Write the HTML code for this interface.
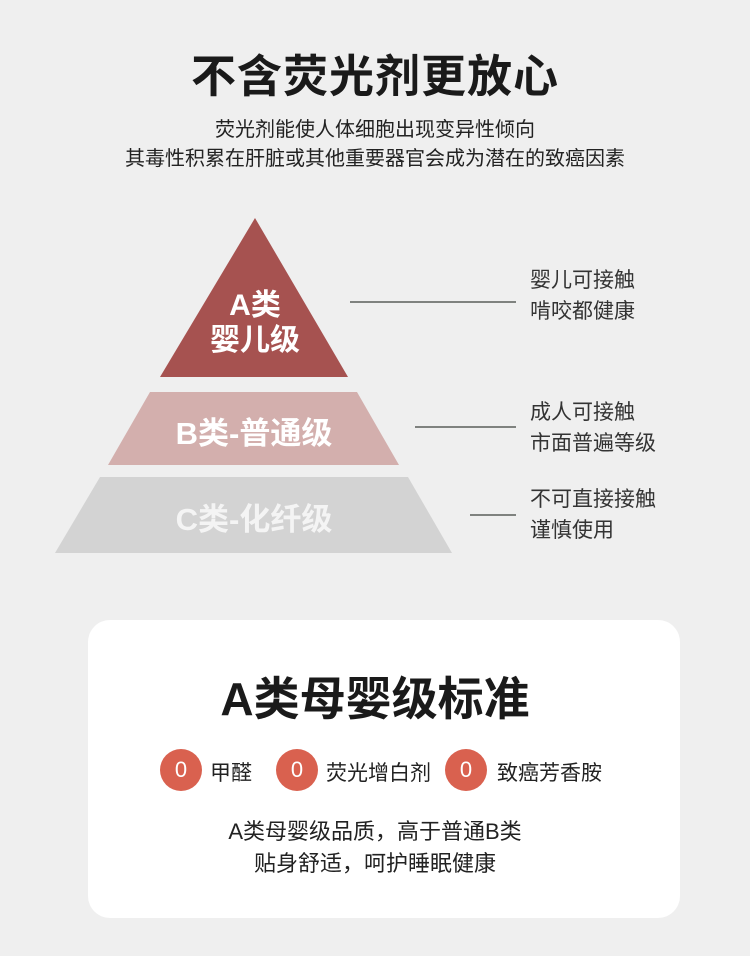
<!DOCTYPE html>
<html><head><meta charset="utf-8"><style>
body{margin:0;width:750px;height:956px;background:#efefef;position:relative;overflow:hidden;font-family:"Liberation Sans","Noto Sans CJK SC",sans-serif;color:#222}
.a{position:absolute;white-space:nowrap}
.c{text-align:center;left:0;width:750px}
.side{font-size:21px;color:#333;line-height:31px}
.circ{position:absolute;width:42px;height:42px;border-radius:50%;background:#d9614f;color:#fff;font-size:22px;text-align:center;line-height:42px}
.lab{font-size:21px;color:#222}
</style></head><body>
<div class="a c" style="top:40px;font-size:45px;font-weight:bold;color:#1a1a1a;letter-spacing:1px">不含荧光剂更放心</div>
<div class="a c" style="top:116px;font-size:20px;line-height:29px;color:#222">荧光剂能使人体细胞出现变异性倾向<br>其毒性积累在肝脏或其他重要器官会成为潜在的致癌因素</div>
<svg class="a" style="left:0;top:0" width="750" height="600">
<polygon points="255,218 348,377 160,377" fill="#a65250"/>
<polygon points="150,392 357,392 399,465 108,465" fill="#d3afad"/>
<polygon points="100,477 408,477 452,553 55,553" fill="#d3d3d3"/>
<line x1="350" y1="302" x2="516" y2="302" stroke="#5a5f5a" stroke-width="1.5"/>
<line x1="415" y1="427" x2="516" y2="427" stroke="#5a5f5a" stroke-width="1.5"/>
<line x1="470" y1="515" x2="516" y2="515" stroke="#5a5f5a" stroke-width="1.5"/>
</svg>
<div class="a" style="left:155px;width:200px;text-align:center;top:288px;font-size:30px;font-weight:bold;color:#fff;line-height:35px">A类<br>婴儿级</div>
<div class="a" style="left:104px;width:300px;text-align:center;top:408px;font-size:31px;font-weight:bold;color:#fff">B类-普通级</div>
<div class="a" style="left:104px;width:300px;text-align:center;top:494px;font-size:31px;font-weight:bold;color:#f4f4f4">C类-化纤级</div>
<div class="a side" style="left:530px;top:265px">婴儿可接触<br>啃咬都健康</div>
<div class="a side" style="left:530px;top:397px">成人可接触<br>市面普遍等级</div>
<div class="a side" style="left:530px;top:484px">不可直接接触<br>谨慎使用</div>
<div class="a" style="left:88px;top:620px;width:592px;height:298px;background:#fff;border-radius:22px"></div>
<div class="a c" style="top:663px;font-size:46px;font-weight:bold;color:#1a1a1a">A类母婴级标准</div>
<div class="circ" style="left:160px;top:749px">0</div>
<div class="a lab" style="left:210px;top:757px">甲醛</div>
<div class="circ" style="left:276px;top:749px">0</div>
<div class="a lab" style="left:326px;top:757px">荧光增白剂</div>
<div class="circ" style="left:445px;top:749px">0</div>
<div class="a lab" style="left:497px;top:757px">致癌芳香胺</div>
<div class="a c" style="top:816px;font-size:22px;line-height:32px;color:#222">A类母婴级品质，高于普通B类<br>贴身舒适，呵护睡眠健康</div>
</body></html>
